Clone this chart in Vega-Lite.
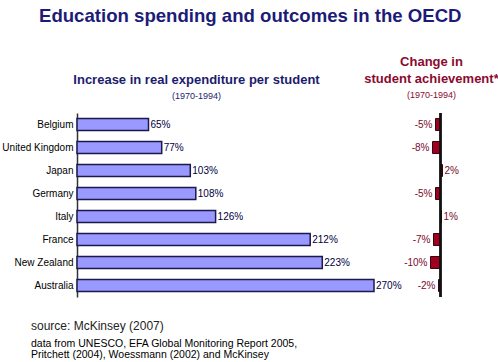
{
  "$schema": "https://vega.github.io/schema/vega-lite/v6.json",
  "padding": {"left": 1, "top": 6, "right": 0, "bottom": 0},
  "background": "white",
  "config": {
    "font": "Liberation Sans",
    "view": {"stroke": null}
  },
  "title": {
    "text": "Education spending and outcomes in the OECD",
    "fontSize": 18.6,
    "fontWeight": "bold",
    "color": "#1c1c78",
    "anchor": "middle",
    "offset": 31
  },
  "datasets": {
    "oecd": [
      {"country": "Belgium", "spend": 65, "chg": -5},
      {"country": "United Kingdom", "spend": 77, "chg": -8},
      {"country": "Japan", "spend": 103, "chg": 2},
      {"country": "Germany", "spend": 108, "chg": -5},
      {"country": "Italy", "spend": 126, "chg": 1},
      {"country": "France", "spend": 212, "chg": -7},
      {"country": "New Zealand", "spend": 223, "chg": -10},
      {"country": "Australia", "spend": 270, "chg": -2}
    ],
    "notes": [
      {"note": " "}
    ]
  },
  "spacing": 21,
  "vconcat": [
    {
      "hconcat": [
        {
          "width": 341,
          "height": 184,
          "data": {"name": "oecd"},
          "transform": [{"calculate": "datum.spend + '%'", "as": "spendLabel"}],
          "title": {
            "text": "Increase in real expenditure per student",
            "subtitle": "(1970-1994)",
            "fontSize": 13,
            "fontWeight": "bold",
            "color": "#1c1c6e",
            "subtitleFontSize": 9,
            "subtitleColor": "#1c1c6e",
            "subtitlePadding": 5,
            "anchor": "middle",
            "frame": "group",
            "dx": -51,
            "offset": 12
          },
          "encoding": {
            "y": {
              "field": "country",
              "type": "nominal",
              "sort": null,
              "scale": {"paddingInner": 0.48, "paddingOuter": 0.24},
              "axis": {
                "title": null,
                "labelFontSize": 10,
                "labelColor": "#000000",
                "ticks": false,
                "tickSize": 0,
                "labelPadding": 4,
                "domainColor": "#333333",
                "domainWidth": 1.5,
                "grid": false
              }
            },
            "x": {"field": "spend", "type": "quantitative", "scale": {"domain": [0, 310]}, "axis": null}
          },
          "layer": [
            {
              "mark": {"type": "bar", "fill": "#9999ff", "stroke": "#1a1a4d", "strokeWidth": 1.5}
            },
            {
              "mark": {"type": "text", "align": "left", "baseline": "middle", "dx": 2, "fontSize": 10, "color": "#000040"},
              "encoding": {
                "text": {"field": "spendLabel"}
              }
            }
          ]
        },
        {
          "width": 22,
          "height": 184,
          "data": {"name": "oecd"},
          "transform": [{"calculate": "datum.chg + '%'", "as": "chgLabel"}],
          "title": {
            "text": ["Change in", "student achievement*"],
            "subtitle": "(1970-1994)",
            "fontSize": 13,
            "fontWeight": "bold",
            "lineHeight": 17,
            "color": "#8b0a2e",
            "subtitleFontSize": 9,
            "subtitleColor": "#8b0a2e",
            "subtitlePadding": 5,
            "anchor": "middle",
            "frame": "group",
            "dx": -4,
            "offset": 12
          },
          "layer": [
            {
              "mark": {"type": "bar", "fill": "#a0001f", "stroke": "#3a0010", "strokeWidth": 1},
              "encoding": {
                "y": {"field": "country", "type": "nominal", "sort": null, "scale": {"paddingInner": 0.48, "paddingOuter": 0.24}, "axis": null},
                "x": {"field": "chg", "type": "quantitative", "scale": {"domain": [-15, 5]}, "axis": null}
              }
            },
            {
              "mark": {"type": "rule", "color": "#111111", "strokeWidth": 1.5},
              "encoding": {"x": {"datum": 0, "type": "quantitative", "axis": null}}
            },
            {
              "transform": [{"filter": "datum.chg < 0"}],
              "mark": {"type": "text", "align": "right", "baseline": "middle", "dx": -3, "fontSize": 10, "color": "#7a0a2a"},
              "encoding": {
                "y": {"field": "country", "type": "nominal", "sort": null, "axis": null},
                "x": {"field": "chg", "type": "quantitative", "axis": null},
                "text": {"field": "chgLabel"}
              }
            },
            {
              "transform": [{"filter": "datum.chg >= 0"}],
              "mark": {"type": "text", "align": "left", "baseline": "middle", "dx": 2, "fontSize": 10, "color": "#7a0a2a"},
              "encoding": {
                "y": {"field": "country", "type": "nominal", "sort": null, "axis": null},
                "x": {"field": "chg", "type": "quantitative", "axis": null},
                "text": {"field": "chgLabel"}
              }
            }
          ]
        }
      ],
      "spacing": 6.5,
      "bounds": "flush"
    },
    {
      "width": 300,
      "height": 1,
      "data": {"name": "notes"},
      "mark": {"type": "text"},
      "encoding": {"text": {"field": "note"}},
      "title": {
        "text": "source: McKinsey (2007)",
        "subtitle": ["data from UNESCO, EFA Global Monitoring Report 2005,", "Pritchett (2004), Woessmann (2002) and McKinsey"],
        "fontSize": 12,
        "fontWeight": "normal",
        "color": "#222222",
        "subtitleFontSize": 10.5,
        "subtitleColor": "#000000",
        "subtitleLineHeight": 11.5,
        "subtitlePadding": 6,
        "anchor": "start",
        "frame": "group",
        "dx": -46,
        "offset": 0
      }
    }
  ]
}
